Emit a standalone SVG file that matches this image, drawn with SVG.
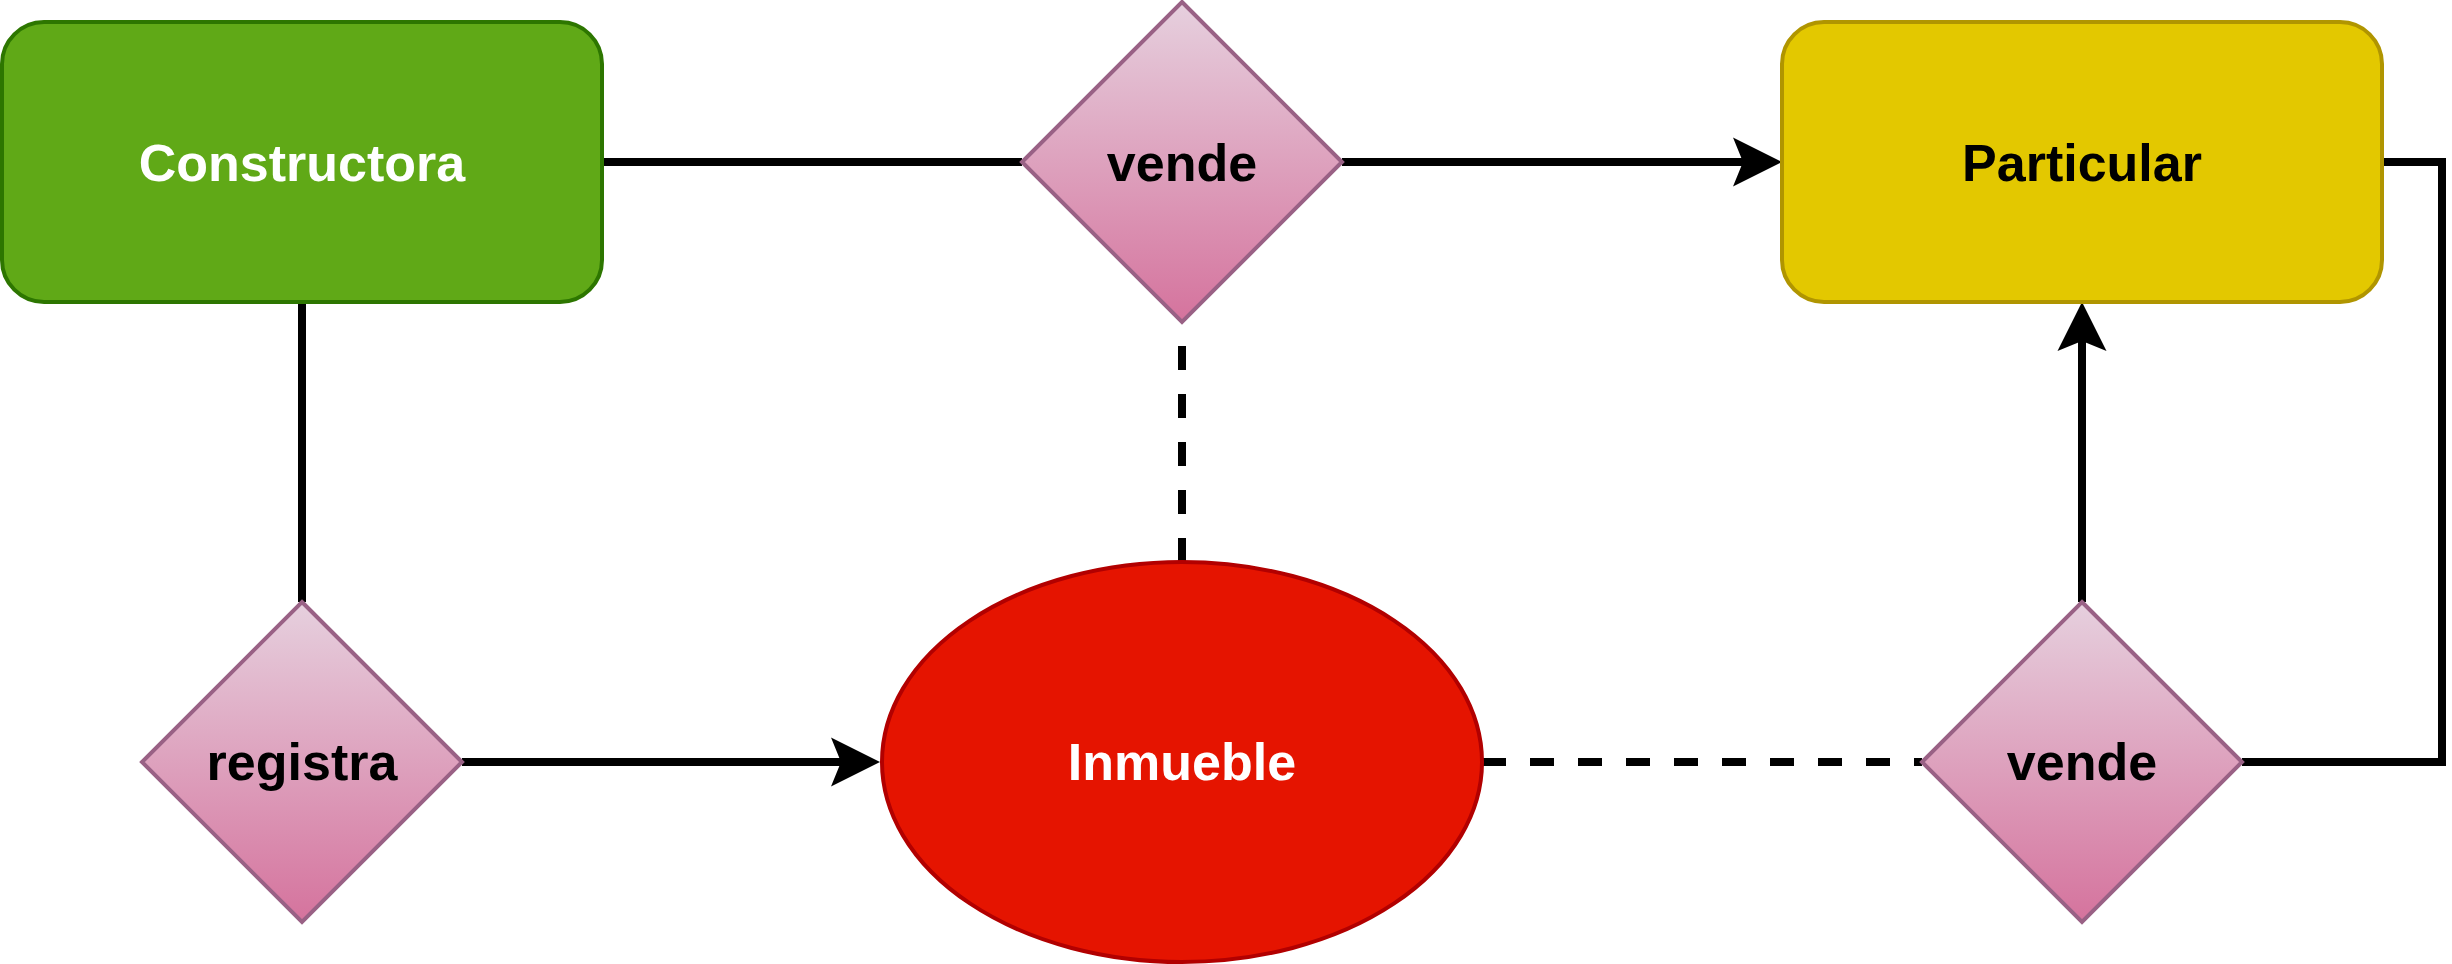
<svg xmlns="http://www.w3.org/2000/svg" width="2452" height="964" viewBox="0 0 2452 964">
  <style>
    .lbl { font-family: "Liberation Sans", Arial, sans-serif; font-weight: bold; font-size: 52px; text-anchor: middle; }
    .white { fill: #ffffff; }
    .black { fill: #000000; }
    .conn { fill: none; stroke: #000000; stroke-width: 8; stroke-linejoin: miter; stroke-linecap: butt; }
    .dash { stroke-dasharray: 24 24; }
    .rel { fill: url(#pinkGrad); stroke: #996185; stroke-width: 4; }
  </style>
  <defs>
    <linearGradient id="pinkGrad" x1="0" y1="0" x2="0" y2="1">
      <stop offset="0" stop-color="#e6d0de"/>
      <stop offset="1" stop-color="#d5739d"/>
    </linearGradient>
    <marker id="arrow" markerUnits="userSpaceOnUse" markerWidth="60" markerHeight="60" refX="0" refY="0" orient="auto" overflow="visible">
      <path d="M10,0 L-39,-24.5 L-29,0 L-39,24.5 Z" fill="#000000"/>
    </marker>
  </defs>
  <rect width="2452" height="964" fill="#ffffff"/>

  <g id="connectors">
    <path class="conn" d="M602,162 H1022"/>
    <path class="conn" d="M1342,162 H1772" marker-end="url(#arrow)"/>
    <path class="conn" d="M302,302 V602"/>
    <path class="conn" d="M462,762 H870" marker-end="url(#arrow)"/>
    <path class="conn dash" d="M1182,562 V322"/>
    <path class="conn dash" d="M1482,762 H1922"/>
    <path class="conn" d="M2082,602 V312" marker-end="url(#arrow)"/>
    <path class="conn" d="M2242,762 H2442 V162 H2384"/>
  </g>

  <g id="constructora">
    <rect x="2" y="22" width="600" height="280" rx="42" ry="42" fill="#60a917" stroke="#2d7600" stroke-width="4"/>
    <text class="lbl white" x="302" y="181">Constructora</text>
  </g>

  <g id="vende1">
    <polygon class="rel" points="1182,2 1342,162 1182,322 1022,162"/>
    <text class="lbl black" x="1182" y="181">vende</text>
  </g>

  <g id="particular">
    <rect x="1782" y="22" width="600" height="280" rx="42" ry="42" fill="#e3c800" stroke="#b09500" stroke-width="4"/>
    <text class="lbl black" x="2082" y="181">Particular</text>
  </g>

  <g id="registra">
    <polygon class="rel" points="302,602 462,762 302,922 142,762"/>
    <text class="lbl black" x="302" y="780">registra</text>
  </g>

  <g id="inmueble">
    <ellipse cx="1182" cy="762" rx="300" ry="200" fill="#e51400" stroke="#b20000" stroke-width="4"/>
    <text class="lbl white" x="1182" y="780">Inmueble</text>
  </g>

  <g id="vende2">
    <polygon class="rel" points="2082,602 2242,762 2082,922 1922,762"/>
    <text class="lbl black" x="2082" y="780">vende</text>
  </g>
</svg>
